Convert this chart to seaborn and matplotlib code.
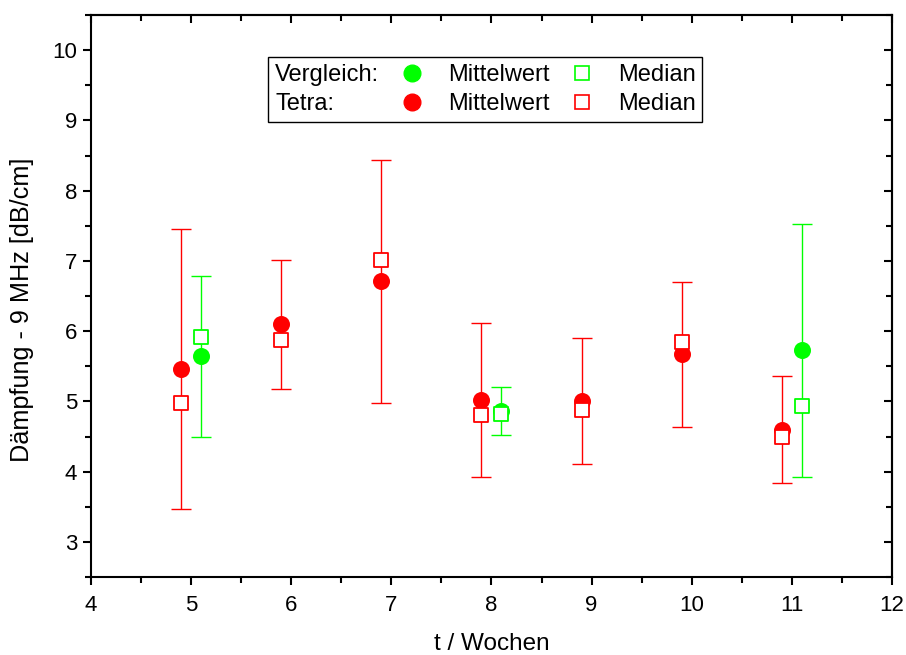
import numpy as np
import pandas as pd
import matplotlib
matplotlib.use('Agg')  # no display here, just write the png
import matplotlib.pyplot as plt
from matplotlib.lines import Line2D
from matplotlib.ticker import MultipleLocator
import seaborn as sns

# Tetra group, measured every week 5..11
tetra_weeks = [5, 6, 7, 8, 9, 10, 11]
tetra_mean = [5.46, 6.10, 6.71, 5.02, 5.01, 5.67, 4.60]
tetra_sd = [1.99, 0.92, 1.73, 1.10, 0.90, 1.03, 0.76]
tetra_median = [4.98, 5.88, 7.02, 4.80, 4.88, 5.84, 4.49]

# comparison group (Vergleich), only 3 dates
verg_weeks = [5, 8, 11]
verg_mean = [5.64, 4.86, 5.73]
verg_sd = [1.14, 0.34, 1.80]
verg_median = [5.92, 4.82, 4.94]

GREEN = '#00ff00'
RED = '#ff0000'
colors = {'Vergleich': GREEN, 'Tetra': RED}
dodge = {'Vergleich': 0.1, 'Tetra': -0.1}  # groups are shifted a bit so the bars dont overlap

df = pd.concat([
    pd.DataFrame({'group': 'Tetra', 'week': tetra_weeks, 'mean': tetra_mean,
                  'sd': tetra_sd, 'median': tetra_median}),
    pd.DataFrame({'group': 'Vergleich', 'week': verg_weeks, 'mean': verg_mean,
                  'sd': verg_sd, 'median': verg_median}),
], ignore_index=True)
df['t'] = df['week'] + df['group'].map(dodge)

sns.set_style('ticks')
plt.rcParams['font.family'] = ['Liberation Sans', 'DejaVu Sans']
plt.rcParams['text.color'] = 'black'
plt.rcParams['axes.labelcolor'] = 'black'
plt.rcParams['xtick.color'] = 'black'
plt.rcParams['ytick.color'] = 'black'

fig, ax = plt.subplots(figsize=(9.06, 6.55), dpi=100)
fig.subplots_adjust(left=0.1004, right=0.9845, bottom=0.119, top=0.977)

for grp, col in colors.items():
    d = df[df['group'] == grp]
    ax.errorbar(d['t'], d['mean'], yerr=d['sd'], fmt='none', ecolor=col,
                elinewidth=1.0, capsize=7, capthick=1.0, zorder=2)
    # mean = filled circle
    sns.scatterplot(x=d['t'], y=d['mean'], color=col, marker='o', s=150,
                    edgecolor=col, linewidth=0, zorder=3, ax=ax)
    # median = open square (white inside, sits on top)
    sns.scatterplot(x=d['t'], y=d['median'], marker='s', s=100,
                    facecolor='white', edgecolor=col, linewidth=1.3, zorder=4, ax=ax)

ax.set_xlim(4, 12)
ax.set_ylim(2.5, 10.5)
ax.xaxis.set_major_locator(MultipleLocator(1))
ax.xaxis.set_minor_locator(MultipleLocator(0.5))
ax.yaxis.set_major_locator(MultipleLocator(1))
ax.yaxis.set_minor_locator(MultipleLocator(0.5))

ax.set_xlabel('t / Wochen', fontsize=17.5, labelpad=12)
ax.set_ylabel('Dämpfung - 9 MHz [dB/cm]', fontsize=18.2, labelpad=13)
ax.yaxis.label.set_y(0.475)  # origin put it a little below the middle

for sp in ax.spines.values():
    sp.set_visible(True)
    sp.set_linewidth(1.5)
    sp.set_color('black')

ax.tick_params(axis='both', which='both', direction='out', width=1.5, colors='black',
               labelcolor='black', labelsize=16)
ax.tick_params(which='major', length=6)
ax.tick_params(which='minor', length=4)
ax.tick_params(axis='x', pad=7)
ax.tick_params(axis='y', pad=4)

# top + right ticks point inwards, so use secondary axes for those
top = ax.secondary_xaxis('top')
top.xaxis.set_major_locator(MultipleLocator(1))
top.xaxis.set_minor_locator(MultipleLocator(0.5))
top.tick_params(which='both', direction='in', width=1.5, colors='black', labeltop=False)
top.tick_params(which='major', length=6)
top.tick_params(which='minor', length=4)
top.spines['top'].set_linewidth(1.5)

right = ax.secondary_yaxis('right')
right.yaxis.set_major_locator(MultipleLocator(1))
right.yaxis.set_minor_locator(MultipleLocator(0.5))
right.tick_params(which='both', direction='in', width=1.5, colors='black', labelright=False)
right.tick_params(which='major', length=6)
right.tick_params(which='minor', length=4)
right.spines['right'].set_linewidth(1.5)

# legend: first column is just the group name, no marker
handles = [
    Line2D([], [], ls='none', label='Vergleich:'),
    Line2D([], [], ls='none', label='Tetra:'),
    Line2D([], [], ls='none', marker='o', ms=12, mfc=GREEN, mec=GREEN, label='Mittelwert'),
    Line2D([], [], ls='none', marker='o', ms=12, mfc=RED, mec=RED, label='Mittelwert'),
    Line2D([], [], ls='none', marker='s', ms=9.5, mfc='white', mec=GREEN, mew=1.2, label='Median'),
    Line2D([], [], ls='none', marker='s', ms=9.5, mfc='white', mec=RED, mew=1.2, label='Median'),
]
leg = ax.legend(handles=handles, ncol=3, loc='upper left', bbox_to_anchor=(0.221, 0.925),
                frameon=True, fancybox=False, edgecolor='black', framealpha=1,
                fontsize=17, handlelength=1.0, handletextpad=1.0, columnspacing=0.9,
                borderpad=0.3, labelspacing=0.28, borderaxespad=0)
leg.get_frame().set_linewidth(1.0)
# squash the empty handle slot of the first column
for row in leg._legend_handle_box.get_children()[0].get_children():
    row.get_children()[0].width = 0
    row.sep = 0

fig.savefig('out.png', dpi=100)
